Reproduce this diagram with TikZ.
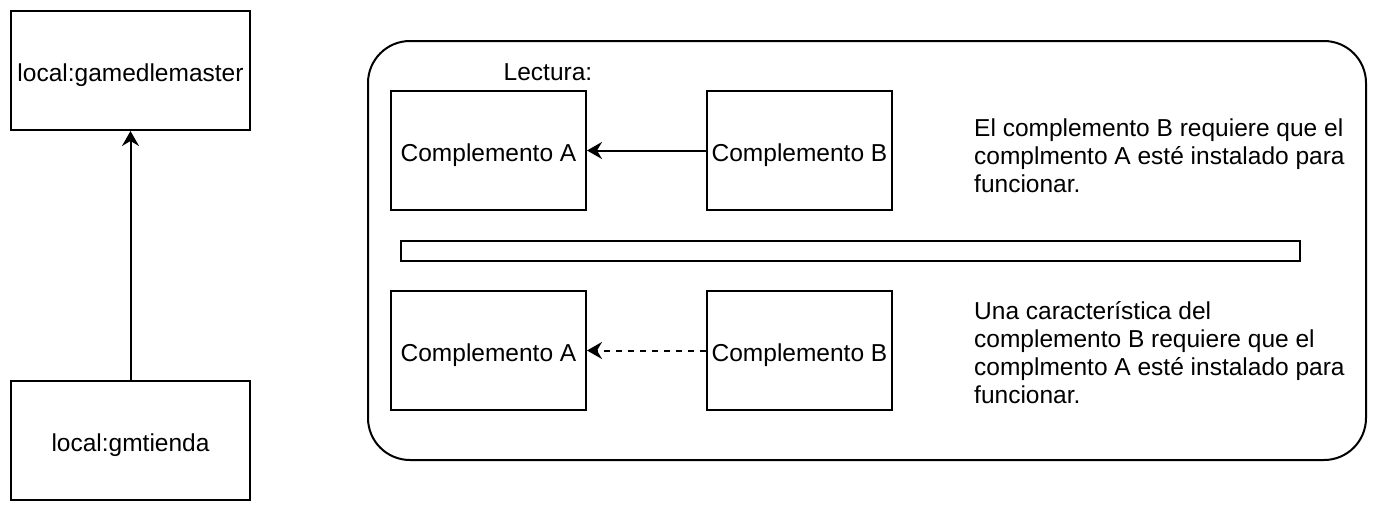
\documentclass[tikz,border=0pt]{standalone}
\usepackage{fontspec}
\setmainfont{Liberation Sans}
\usetikzlibrary{arrows.meta}
\begin{document}
\begin{tikzpicture}[x=1pt,y=-1pt,
  every node/.style={font=\fontsize{24.5}{28}\selectfont},
  box/.style={draw,line width=2pt,rectangle,inner sep=0pt,text height=22pt,text depth=0pt},
  txt/.style={inner sep=0pt},
  arr/.style={line width=2pt,-{Stealth[length=15pt,width=17pt,inset=5pt]}},
  darr/.style={arr,dash pattern=on 6pt off 6pt}]
\useasboundingbox (0,0) rectangle (1380,514);
\node[box,minimum width=239pt,minimum height=119pt] (gm) at (130.5,70.5) {local:gamedlemaster};
\node[box,minimum width=239pt,minimum height=119pt] (gt) at (130.5,440.5) {local:gmtienda};
\draw[arr] (gt) -- (gm);
\node[draw,line width=2pt,rounded corners=42pt,minimum width=998pt,minimum height=419pt,inner sep=0pt] (frame) at (867,250.5) {};
\node[txt] (lec) at (548,72) {Lectura:};
\node[box,minimum width=195pt,minimum height=119pt] (a1) at (488.5,150.5) {Complemento A};
\node[box,minimum width=185pt,minimum height=119pt] (b1) at (799.5,150.5) {Complemento B};
\draw[arr] (b1) -- (a1);
\node[txt,anchor=west,align=left] (t1) at (974,156) {El complemento B requiere que el\\complmento A esté instalado para\\funcionar.};
\node[box,minimum width=899pt,minimum height=20pt,text height=0pt] (bar) at (850.5,251) {};
\node[box,minimum width=195pt,minimum height=119pt] (a2) at (488.5,350.5) {Complemento A};
\node[box,minimum width=185pt,minimum height=119pt] (b2) at (799.5,350.5) {Complemento B};
\draw[darr] (b2) -- (a2);
\node[txt,anchor=west,align=left] (t2) at (974,352.5) {Una característica del\\complemento B requiere que el\\complmento A esté instalado para\\funcionar.};
\end{tikzpicture}
\end{document}
